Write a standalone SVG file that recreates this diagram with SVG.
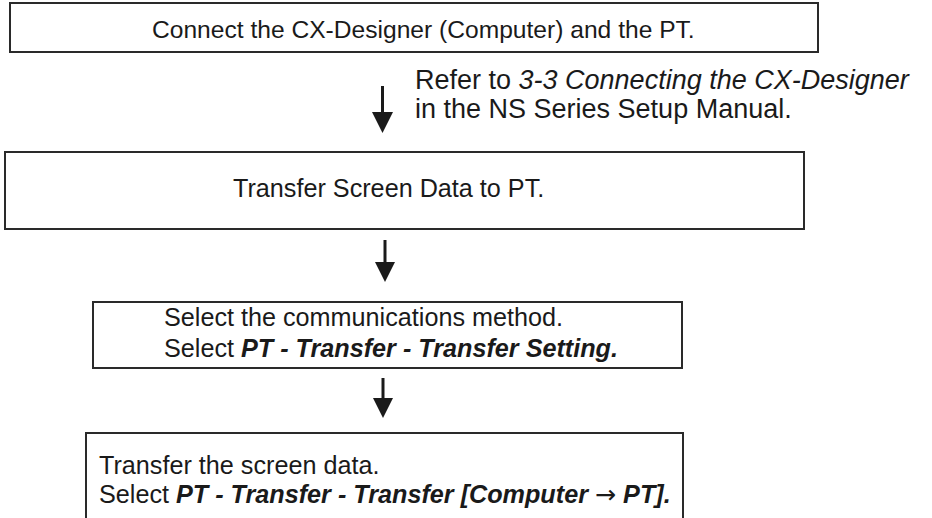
<svg xmlns="http://www.w3.org/2000/svg" width="932" height="518" viewBox="0 0 932 518">
<style>
.box{fill:#fff;stroke:#2a2a2a;stroke-width:2}
.t{font-family:"Liberation Sans",Arial,Helvetica,sans-serif;font-size:25.2px;fill:#1a1a1a}
.b1{font-size:24.6px}
.note{font-size:27px}
.bi{font-weight:bold;font-style:italic}
.it{font-style:italic}
.arr{font-family:"DejaVu Sans",sans-serif;font-weight:normal;font-style:normal}
.shaft{stroke:#1a1a1a;stroke-width:3}
.head{fill:#1a1a1a}
</style>
<rect width="932" height="518" fill="#fff"/>
<g id="node1">
<rect class="box" x="10" y="3" width="808" height="49"/>
<text class="t b1" x="152" y="38">Connect the CX-Designer (Computer) and the PT.</text>
</g>
<g id="node2">
<rect class="box" x="5" y="152" width="799" height="77"/>
<text class="t" x="233" y="197">Transfer Screen Data to PT.</text>
</g>
<g id="node3">
<rect class="box" x="93" y="302" width="589" height="66"/>
<text class="t" x="164" y="326">Select the communications method.</text>
<text class="t" x="164" y="357">Select <tspan class="bi">PT - Transfer - Transfer Setting.</tspan></text>
</g>
<g id="node4">
<rect class="box" x="86" y="433" width="597" height="87"/>
<text class="t" x="99" y="474">Transfer the screen data.</text>
<text class="t" x="99" y="503">Select <tspan class="bi">PT - Transfer - Transfer [Computer </tspan><tspan class="arr">→</tspan><tspan class="bi"> PT].</tspan></text>
</g>
<g id="connectors">
<line class="shaft" x1="382.5" y1="86" x2="382.5" y2="114"/>
<polygon class="head" points="372,112 393,112 382.5,133"/>
<line class="shaft" x1="385" y1="240" x2="385" y2="264"/>
<polygon class="head" points="375,262 395,262 385,282"/>
<line class="shaft" x1="383" y1="378" x2="383" y2="400"/>
<polygon class="head" points="373,398 393,398 383,418"/>
</g>
<g id="note">
<text class="t note" x="415" y="89">Refer to <tspan class="it">3-3 Connecting the CX-Designer</tspan></text>
<text class="t note" x="415" y="118">in the NS Series Setup Manual.</text>
</g>
</svg>
